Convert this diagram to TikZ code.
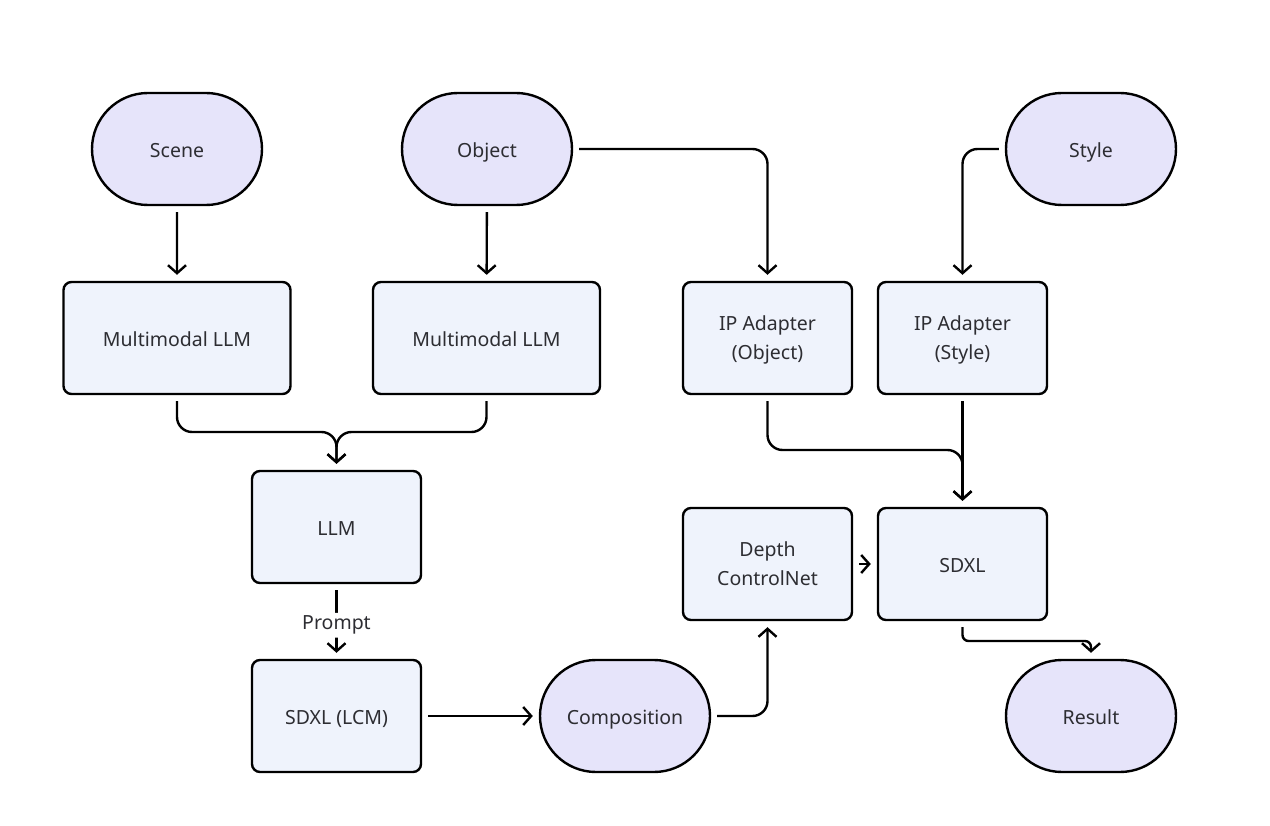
\documentclass[tikz,border=0pt]{standalone}
\usepackage{fontspec}
\setmainfont{Noto Sans}
\usetikzlibrary{arrows.meta,shapes.misc}
\definecolor{stfill}{RGB}{230,228,250}
\definecolor{bxfill}{RGB}{239,243,252}
\definecolor{txt}{RGB}{45,45,50}
\tikzset{
  base/.style={draw=black, line width=2.4pt, text=txt, font=\fontsize{19.5}{29}\selectfont, inner sep=0pt, align=center,
    text depth=0pt, execute at begin node={\rule{0pt}{17.5pt}}},
  term/.style={base, rounded rectangle, fill=stfill, minimum width=170pt, minimum height=112pt},
  proc/.style={base, rectangle, rounded corners=8pt, fill=bxfill, minimum width=169pt, minimum height=112pt},
  wide/.style={proc, minimum width=227pt},
  conn/.style={draw=black, line width=2.4pt, rounded corners=15pt, shorten <=6pt, shorten >=6pt,
     -{Straight Barb[length=8pt,width=18pt,line width=2.4pt]}},
  lbl/.style={fill=white, text=txt, font=\fontsize{19.5}{23}\selectfont, inner sep=3pt}
}
\begin{document}
\begin{tikzpicture}[x=1pt,y=-1pt]
\useasboundingbox (0,0) rectangle (1270,826);
\node[term] (scene) at (177,149) {Scene};
\node[term] (object) at (487,149) {Object};
\node[term] (style) at (1091,149) {Style};
\node[wide] (mm1) at (177,338) {Multimodal LLM};
\node[wide] (mm2) at (486.5,338) {Multimodal LLM};
\node[proc] (ipo) at (767.5,338) {IP Adapter\\(Object)};
\node[proc] (ips) at (962.5,338) {IP Adapter\\(Style)};
\node[proc] (llm) at (336.5,527) {LLM};
\node[proc] (depth) at (767.5,564) {Depth\\ControlNet};
\node[proc] (sdxl) at (962.5,564) {SDXL};
\node[proc] (lcm) at (336.5,716) {SDXL (LCM)};
\node[term] (comp) at (625,716) {Composition};
\node[term] (result) at (1091,716) {Result};

\coordinate (j1) at (336.5,432);
\coordinate (j2) at (962.5,450);
\coordinate (j3) at (1091,641);

\draw[conn] (scene) -- (mm1);
\draw[conn] (object) -- (mm2);
\draw[conn] (object.east) -| (ipo.north);
\draw[conn] (style.west) -| (ips.north);
\draw[conn] (mm1.south) |- (j1) -- (llm.north);
\draw[conn] (mm2.south) |- (j1) -- (llm.north);
\draw[conn] (llm) -- node[lbl, pos=0.55] (pl) {Prompt} (lcm);
\draw[conn] (lcm) -- (comp);
\draw[conn] (comp.east) -| (depth.south);
\draw[conn] (depth) -- (sdxl);
\draw[conn] (ipo.south) |- (j2) -- (sdxl.north);
\draw[conn] (ips) -- (sdxl);
\draw[conn, rounded corners=6pt] (sdxl.south) |- (j3) -- (result.north);
\end{tikzpicture}
\end{document}
